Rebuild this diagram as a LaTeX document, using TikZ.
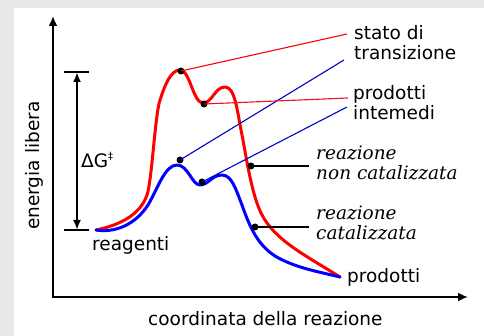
\documentclass[tikz,border=0pt]{standalone}
\usepackage{fontspec}
\setmainfont{DejaVu Sans}
\newfontfamily\serifit{DejaVu Serif}
\usetikzlibrary{arrows.meta}
\definecolor{bggray}{HTML}{E8E8E8}
\definecolor{leadblue}{HTML}{0000CC}
\definecolor{leadred}{HTML}{EE1122}
\tikzset{
  lbl/.style={font=\fontsize{18.5}{20}\selectfont, inner sep=0pt, align=left},
  itlbl/.style={font=\serifit\itshape\fontsize{18.5}{20}\selectfont, inner sep=0pt, align=left},
  axis/.style={line width=2pt, -{Latex[length=10pt,width=9pt]}},
  curve/.style={line width=3pt, line join=round, line cap=round},
  leader/.style={line width=1.1pt},
  dot/.style={circle, fill=black, inner sep=0pt, minimum size=7pt}
}
\begin{document}
\begin{tikzpicture}[x=1pt,y=-1pt]
\useasboundingbox (0,0) rectangle (484,336);
\fill[bggray] (0,0) rectangle (484,336);
\fill[white] (14,8) rectangle (484,336);
% axes
\coordinate (O) at (53,297);
\coordinate (Ytip) at (53,16);
\coordinate (Xtip) at (468,297);
\draw[axis] (53,298) -- (Ytip);
\draw[axis] (52,297) -- (Xtip);
% Delta G
\coordinate (gt1) at (64,72); \coordinate (gt2) at (89,72);
\coordinate (gb1) at (64,230); \coordinate (gb2) at (89,230);
\draw[line width=1.3pt] (gt1) -- (gt2);
\draw[line width=1.3pt] (gb1) -- (gb2);
\coordinate (ga) at (77,72); \coordinate (gb) at (77,230);
\draw[line width=2pt, {Latex[length=10pt,width=8pt]}-{Latex[length=10pt,width=8pt]}] (ga) -- (gb);
\node[lbl, anchor=base west] (dg) at (81,168) {ΔG\raisebox{0.45em}{\fontsize{10}{10}\selectfont ‡}};
% curves
\draw[curve, red] (96,230) .. controls (120,225) and (140,215) .. (147,195)
  .. controls (152,180) and (155,115) .. (160,100)
  .. controls (164,88) and (170,70) .. (180,70)
  .. controls (190,70) and (193,103) .. (203,103)
  .. controls (212,103) and (215,87) .. (225,87)
  .. controls (235,87) and (237,110) .. (242,135)
  .. controls (246,155) and (251,192) .. (261,213)
  .. controls (274,240) and (305,255) .. (340,277);
\draw[curve, blue] (96,230) .. controls (115,233) and (135,225) .. (148,205)
  .. controls (158,188) and (165,165) .. (177,165)
  .. controls (188,165) and (192,185) .. (200,185)
  .. controls (208,185) and (212,175) .. (222,175)
  .. controls (232,175) and (236,190) .. (242,205)
  .. controls (250,228) and (258,245) .. (275,256)
  .. controls (295,268) and (320,272) .. (340,277);
% dots
\node[dot] (rts) at (181,71) {};
\node[dot] (rint) at (204,104) {};
\node[dot] (bts) at (180,160) {};
\node[dot] (bint) at (202,182) {};
\node[dot] (rnc) at (251,166) {};
\node[dot] (bc) at (255,227) {};
% labels (base = baseline of last line)
\node[lbl, anchor=base west] (ts) at (354,60) {stato di\\transizione};
\node[lbl, anchor=base west] (pi) at (353,120) {prodotti\\intemedi};
\node[itlbl, anchor=base west] (nc) at (316,180) {reazione\\non catalizzata};
\node[itlbl, anchor=base west] (cat) at (316,240) {reazione\\catalizzata};
\node[lbl, anchor=base west] (reag) at (92,251) {reagenti};
\node[lbl, anchor=base west] (prod) at (347,283) {prodotti};
\node[lbl, anchor=base west] (xl) at (148,325) {coordinata della reazione};
\node[lbl, anchor=base west, rotate=90] (yl) at (39.5,230) {energia libera};
% leader ends
\coordinate (e1) at (347,34);
\coordinate (e2) at (344,60);
\coordinate (e3) at (348,98);
\coordinate (e4) at (347,107);
\coordinate (e5) at (309,166);
\coordinate (e6) at (309,227);
\draw[leader, red] (rts.center) -- (e1);
\draw[leader, leadblue] (bts.center) -- (e2);
\draw[leader, leadred] (rint.center) -- (e3);
\draw[leader, leadblue] (bint.center) -- (e4);
\draw[leader, black] (rnc.center) -- (e5);
\draw[leader, black] (bc.center) -- (e6);
\end{tikzpicture}
\end{document}
